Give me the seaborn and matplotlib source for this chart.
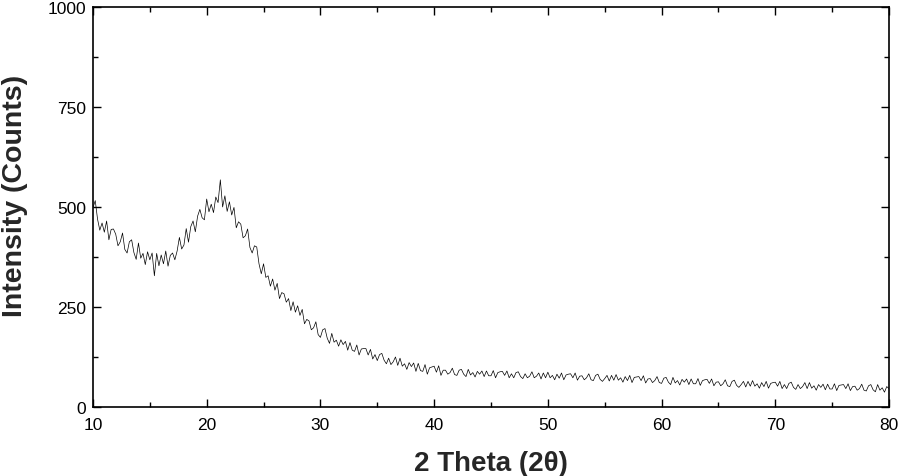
import numpy as np
import pandas as pd
import matplotlib
matplotlib.use("Agg")
import matplotlib.pyplot as plt
import seaborn as sns
from matplotlib.ticker import MultipleLocator

# 2-theta grid, 0.2 deg step from 10 to 80
two_theta = np.linspace(10, 80, 351)

# intensity values (5 per degree, one row per degree)
intensity = [
    498, 516, 470, 442, 460,   # 10
    437, 465, 418, 444, 445,   # 11
    432, 403, 413, 435, 394,   # 12
    385, 413, 418, 386, 369,   # 13
    410, 372, 384, 356, 388,   # 14
    368, 385, 328, 384, 353,   # 15
    380, 358, 390, 352, 379,   # 16
    385, 368, 390, 424, 395,   # 17
    405, 446, 412, 451, 465,   # 18
    438, 477, 494, 473, 468,   # 19
    520, 488, 507, 486, 525,   # 20
    511, 568, 500, 528, 489,   # 21
    513, 480, 499, 448, 463,   # 22
    457, 423, 428, 445, 399,   # 23
    385, 403, 400, 358, 333,   # 24
    358, 324, 328, 302, 320,   # 25
    292, 309, 271, 286, 283,   # 26
    262, 271, 241, 263, 237,   # 27
    253, 229, 244, 208, 219,   # 28
    215, 193, 198, 213, 181,   # 29
    174, 193, 196, 172, 159,   # 30
    184, 162, 167, 152, 168,   # 31
    156, 164, 142, 161, 142,   # 32
    139, 155, 130, 145, 146,   # 33
    146, 130, 144, 120, 131,   # 34
    116, 131, 134, 117, 108,   # 35
    122, 106, 113, 125, 104,   # 36
    122, 102, 108, 94, 111,    # 37
    101, 110, 89, 109, 91,     # 38
    89, 106, 82, 98, 100,      # 39
    102, 87, 103, 79, 92,      # 40
    92, 82, 86, 97, 81,        # 41
    79, 92, 94, 82, 76,        # 42
    94, 80, 86, 75, 89,        # 43
    82, 90, 76, 90, 78,        # 44
    78, 91, 73, 86, 88,        # 45
    89, 79, 90, 73, 83,        # 46
    73, 86, 88, 76, 71,        # 47
    83, 73, 77, 88, 73,        # 48
    77, 85, 70, 85, 73,        # 49
    87, 73, 79, 68, 82,        # 50
    72, 85, 68, 80, 82,        # 51
    83, 73, 85, 67, 77,        # 52
    78, 68, 73, 83, 68,        # 53
    66, 79, 82, 69, 64,        # 54
    71, 79, 65, 79, 67,        # 55
    81, 67, 73, 62, 76,        # 56
    66, 79, 61, 74, 75,        # 57
    76, 66, 78, 60, 70,        # 58
    71, 61, 66, 76, 61,        # 59
    59, 72, 74, 62, 56,        # 60
    74, 60, 66, 55, 69,        # 61
    62, 70, 56, 70, 58,        # 62
    58, 71, 54, 66, 68,        # 63
    69, 59, 70, 53, 62,        # 64
    63, 53, 58, 68, 53,        # 65
    51, 64, 67, 54, 49,        # 66
    56, 64, 50, 64, 52,        # 67
    66, 52, 58, 47, 61,        # 68
    51, 64, 47, 59, 61,        # 69
    62, 52, 64, 46, 56,        # 70
    46, 59, 62, 49, 44,        # 71
    56, 46, 51, 61, 46,        # 72
    61, 47, 53, 42, 56,        # 73
    49, 57, 43, 57, 45,        # 74
    45, 58, 41, 54, 55,        # 75
    56, 46, 58, 41, 51,        # 76
    52, 42, 46, 57, 42,        # 77
    40, 53, 56, 43, 38,        # 78
    56, 42, 48, 37, 51,        # 79
    46,                        # 80
]

x_ticks = [10, 20, 30, 40, 50, 60, 70, 80]
y_ticks = [0, 250, 500, 750, 1000]

df = pd.DataFrame({"two_theta": two_theta, "intensity": intensity})

sns.set_style("ticks")
plt.rcParams["font.family"] = ["Liberation Sans", "DejaVu Sans"]

fig = plt.figure(figsize=(9, 4.77), dpi=100)
ax = fig.add_axes([0.1033, 0.1447, 0.8845, 0.8385])

sns.lineplot(data=df, x="two_theta", y="intensity", ax=ax,
             color="black", linewidth=0.5)

ax.set_xlim(10, 80)
ax.set_ylim(0, 1000)
ax.set_xticks(x_ticks)
ax.set_yticks(y_ticks)
ax.xaxis.set_minor_locator(MultipleLocator(5))
ax.yaxis.set_minor_locator(MultipleLocator(125))
ax.tick_params(which="both", direction="in", top=True, right=True,
               labelsize=12.5, width=1, colors="black")
ax.tick_params(which="major", length=6)
ax.tick_params(which="minor", length=3.5)
ax.tick_params(axis="x", pad=7)
ax.tick_params(axis="y", pad=5)
for s in ax.spines.values():
    s.set_linewidth(1.2)
    s.set_color("black")

ax.set_xlabel("2 Theta (2θ)", fontsize=20, fontweight="bold", labelpad=13)
ax.set_ylabel("Intensity (Counts)", fontsize=20.5, fontweight="bold")
ax.yaxis.set_label_coords(-0.081, 0.53)

fig.savefig("out.png", dpi=100)
